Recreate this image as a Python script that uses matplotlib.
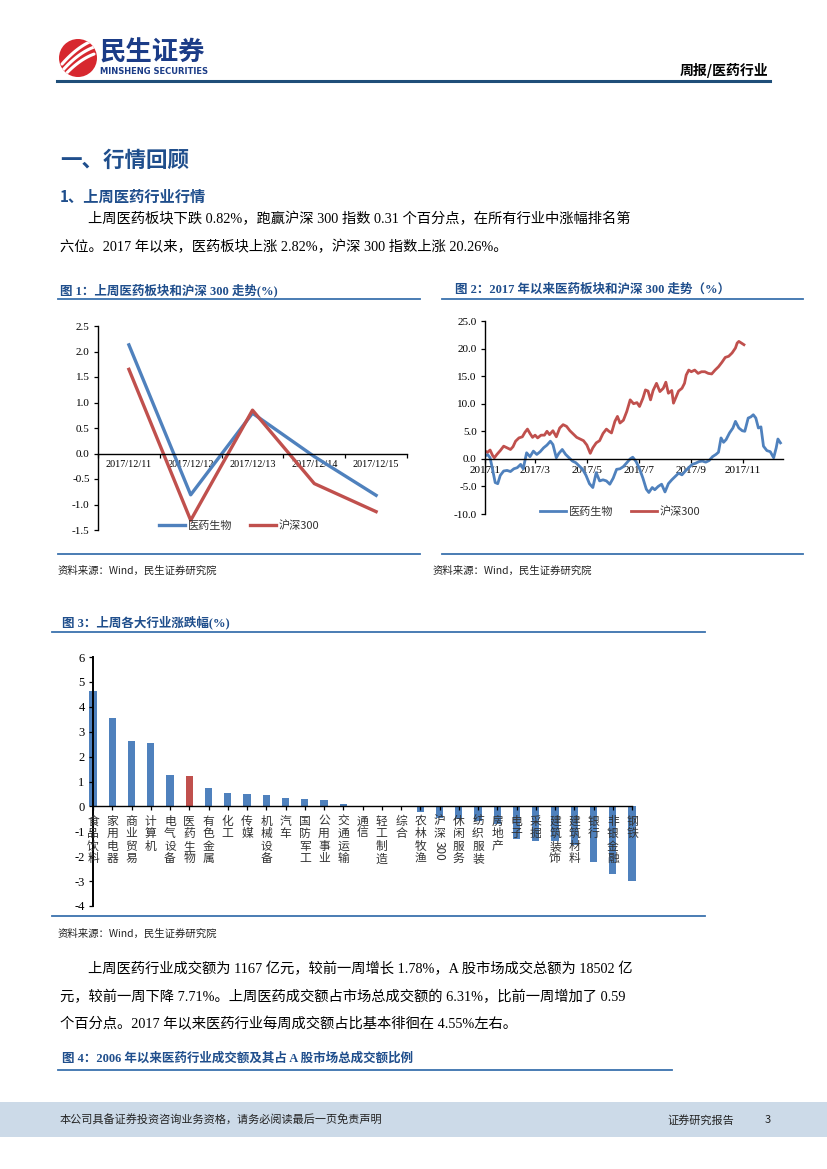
import numpy as np
import pandas as pd
import matplotlib
matplotlib.use('Agg')
import matplotlib.pyplot as plt
from matplotlib.patches import Circle, Rectangle
from matplotlib.lines import Line2D
from matplotlib.transforms import blended_transform_factory

plt.rcParams['axes.unicode_minus'] = False

# === data: figure 1 (last week daily change, %) ===
week_dates = ['2017/12/11', '2017/12/12', '2017/12/13', '2017/12/14', '2017/12/15']
week_yy = [2.13, -0.81, 0.79, -0.06, -0.82]
week_hs = [1.65, -1.31, 0.85, -0.59, -1.14]

# === data: figure 2 (2017 YTD, %), x = days since 2017-01-01 ===
hs_days = [0, 3, 6, 9, 11, 14, 18, 22, 26, 30, 33, 36, 40, 44, 47, 50, 53, 56, 59, 62,
           66, 70, 73, 76, 80, 84, 88, 92, 96, 100, 104, 108, 112, 116, 120, 124, 127, 131,
           135, 139, 143, 146, 149, 153, 156, 159, 163, 167, 171, 175, 179, 182, 186, 189,
           192, 195, 198, 202, 206, 210, 213, 216, 220, 222, 225, 228, 232, 235, 237, 240,
           243, 247, 251, 255, 259, 263, 267, 271, 275, 279, 283, 287, 291, 295, 297, 299,
           302, 305]
hs_vals = [1.4, 1.2, 1.6, 0.6, 0.2, 0.8, 1.5, 2.3, 2.0, 1.7, 2.2, 3.2, 3.8, 4.0, 4.8, 5.4,
           4.6, 3.9, 4.3, 3.8, 4.3, 4.3, 5.0, 4.4, 5.1, 4.0, 5.6, 6.2, 5.9, 5.1, 4.5, 3.9,
           3.6, 3.3, 2.5, 1.0, 2.0, 2.9, 3.3, 4.6, 5.4, 5.0, 4.7, 6.8, 7.7, 6.5, 7.0, 8.6,
           10.7, 10.0, 10.2, 9.5, 11.0, 12.5, 12.3, 10.7, 12.4, 13.7, 12.2, 12.8, 13.9, 11.9,
           12.4, 10.1, 11.2, 12.3, 12.8, 13.7, 15.2, 16.1, 15.8, 16.1, 15.5, 15.8, 15.8, 15.5,
           15.4, 16.1, 16.7, 17.5, 18.4, 18.6, 19.2, 20.1, 21.0, 21.3, 21.0, 20.7]
yy_days = [0, 3, 6, 9, 12, 15, 18, 22, 26, 30, 34, 38, 42, 45, 49, 53, 57, 61, 65, 69,
           73, 77, 80, 84, 87, 91, 95, 99, 103, 107, 111, 115, 119, 123, 127, 131, 135, 139,
           143, 147, 151, 155, 159, 163, 167, 171, 174, 178, 182, 186, 190, 193, 197, 200,
           204, 208, 212, 216, 220, 224, 228, 232, 236, 240, 244, 248, 252, 256, 260, 264,
           268, 272, 275, 278, 281, 284, 288, 292, 295, 299, 303, 306, 310, 313, 316, 319,
           322, 325, 328, 332, 336, 340, 343, 345, 348]
yy_vals = [0.5, 0.8, 0.2, -2.0, -4.3, -4.5, -3.0, -2.2, -2.1, -2.3, -1.8, -1.6, -1.0, -1.8,
           1.1, 0.4, 1.4, 0.8, 1.3, 2.0, 2.5, 3.2, 2.6, 0.2, 1.0, 1.7, 0.8, 0.2, -0.4, -0.7,
           -1.3, -1.9, -3.0, -4.5, -5.2, -2.5, -4.0, -3.8, -4.0, -4.6, -3.5, -1.9, -1.8, -1.4,
           -0.7, 0.0, 0.3, -0.5, -1.8, -3.5, -5.5, -6.1, -5.2, -5.6, -5.0, -4.6, -6.0, -4.5,
           -3.8, -3.2, -2.6, -2.9, -2.2, -1.6, -1.0, -0.8, -0.5, -0.4, -0.6, -0.3, 0.4, 0.8,
           1.2, 3.8, 3.0, 3.5, 4.7, 5.6, 6.8, 5.6, 5.1, 5.0, 7.4, 7.6, 8.0, 7.4, 5.6, 5.8,
           2.3, 1.5, 1.3, 0.2, 2.0, 3.6, 2.9]
month_ticks = ['2017/1', '2017/3', '2017/5', '2017/7', '2017/9', '2017/11']

# === data: figure 3 (industries, last week change %) ===
industries = ['食品饮料', '家用电器', '商业贸易', '计算机', '电气设备', '医药生物', '有色金属',
              '化工', '传媒', '机械设备', '汽车', '国防军工', '公用事业', '交通运输', '通信',
              '轻工制造', '综合', '农林牧渔', '沪深300', '休闲服务', '纺织服装', '房地产', '电子',
              '采掘', '建筑装饰', '建筑材料', '银行', '非银金融', '钢铁']
ind_vals = [4.64, 3.54, 2.64, 2.54, 1.25, 1.21, 0.74, 0.52, 0.51, 0.44, 0.34, 0.31, 0.24,
            0.08, 0.01, -0.01, -0.02, -0.22, -0.45, -0.52, -0.60, -0.72, -1.32, -1.38, -1.40,
            -1.55, -2.24, -2.70, -2.98]

W, H = 827, 1169
SERIF = ['Liberation Serif', 'Noto Sans CJK SC']
SANS = ['Noto Sans CJK SC', 'DejaVu Sans']
NAVY = '#1F4E8C'
RULE = '#3A72AE'
BLUE = '#4F81BD'
RED = '#C0504D'

fig = plt.figure(figsize=(W / 100, H / 100), dpi=100)


def fx(x):
    return x / W


def fy(y):
    return 1 - y / H


def put(x, y, s, size, family=SERIF, **kw):
    kw.setdefault('va', 'center')
    fig.text(fx(x), fy(y), s, fontsize=size, family=family, **kw)


def hline(x0, x1, y, color=RULE, lw=1.3):
    fig.add_artist(Line2D([fx(x0), fx(x1)], [fy(y), fy(y)], color=color, lw=lw,
                          transform=fig.transFigure))


def box(x0, y0, x1, y1):
    return fig.add_axes([fx(x0), fy(y1), (x1 - x0) / W, (y1 - y0) / H])


def frame(ax, left_lw=1.0):
    # spines first: moving the bottom spine resets the tick objects
    for s in ['top', 'right']:
        ax.spines[s].set_visible(False)
    ax.spines['bottom'].set_position(('data', 0))
    ax.spines['bottom'].set_linewidth(1.0)
    ax.spines['left'].set_linewidth(left_lw)
    ax.patch.set_alpha(0)


# === header ===
logo = box(58, 38, 98, 78)
logo.set_xlim(0, 40)
logo.set_ylim(40, 0)
logo.set_aspect('equal')
logo.axis('off')
disc = Circle((20, 20), 19, fc='#D7282F', ec='none')
logo.add_patch(disc)
for off in [-7, 0, 7]:
    xs = np.linspace(4, 36, 40)
    ys = 30 - (xs - 4) * 0.75 + off + 0.012 * (xs - 20) ** 2
    ln, = logo.plot(xs, ys, color='white', lw=2.2, solid_capstyle='round')
    ln.set_clip_path(disc)

put(100, 53, '民生证券', 19, family=SANS, weight='bold', color='#1B3C87')
put(100, 71, 'MINSHENG SECURITIES', 6, family=['DejaVu Sans'], weight='bold', color='#1B3C87')
put(768, 70, '周报/医药行业', 10, family=SANS, weight='bold', ha='right')
hline(57, 770, 81, color='#1F4E79', lw=2.2)

# === section text ===
put(60, 160, '一、行情回顾', 15.5, family=SANS, weight='bold', color=NAVY)
put(60, 197, '1、上周医药行业行情', 11, family=SANS, weight='bold', color=NAVY)
put(88, 219, '上周医药板块下跌 0.82%，跑赢沪深 300 指数 0.31 个百分点，在所有行业中涨幅排名第', 10.3)
put(60, 247, '六位。2017 年以来，医药板块上涨 2.82%，沪深 300 指数上涨 20.26%。', 10.3)

# === figure 1 ===
put(60, 290, '图 1：上周医药板块和沪深 300 走势(%)', 9, weight='bold', color=NAVY)
hline(58, 420, 299)
hline(58, 420, 554)
put(58, 571, '资料来源：Wind，民生证券研究院', 7.5, family=SANS, color='#222222')

ax1 = box(98, 326, 407, 530)
frame(ax1)
xi = np.arange(len(week_dates))
ax1.plot(xi, week_yy, color=BLUE, lw=2.4, label='医药生物')
ax1.plot(xi, week_hs, color=RED, lw=2.4, label='沪深300')
ax1.set_xlim(-0.5, len(week_dates) - 0.5)
ax1.set_ylim(-1.5, 2.5)
ax1.set_yticks(np.arange(-1.5, 2.51, 0.5))
ax1.set_yticklabels([f'{v:.1f}' for v in np.arange(-1.5, 2.51, 0.5)], family=SERIF, fontsize=8)
ax1.set_xticks(np.arange(-0.5, len(week_dates), 1.0))
ax1.set_xticklabels([])
ax1.set_xticks(xi, minor=True)
ax1.set_xticklabels(week_dates, minor=True, family=SERIF, fontsize=7.3)
ax1.tick_params(axis='x', which='major', direction='out', length=3, width=0.9)
ax1.tick_params(axis='x', which='minor', length=0, pad=5)
ax1.tick_params(axis='y', direction='out', length=3, width=0.9, pad=3)
ax1.legend(loc='center', bbox_to_anchor=(fx(239), fy(526)), bbox_transform=fig.transFigure,
           ncol=2, frameon=False, prop={'family': SANS, 'size': 8}, handlelength=2.4,
           handletextpad=0.2, columnspacing=1.6, labelcolor='#333333')

# === figure 2 ===
put(455, 290, '图 2：2017 年以来医药板块和沪深 300 走势（%）', 9, weight='bold', color=NAVY)
hline(442, 803, 299)
hline(442, 803, 554)
put(433, 571, '资料来源：Wind，民生证券研究院', 7.5, family=SANS, color='#222222')

ax2 = box(485, 321, 783, 514)
frame(ax2)
ax2.plot(yy_days, yy_vals, color=BLUE, lw=2.0, label='医药生物')
ax2.plot(hs_days, hs_vals, color=RED, lw=2.0, label='沪深300')
ax2.set_xlim(0, 351)
ax2.set_ylim(-10, 25)
yt = np.arange(-10, 25.1, 5)
ax2.set_yticks(yt)
ax2.set_yticklabels([f'{v:.1f}' for v in yt], family=SERIF, fontsize=8)
mdays = [pd.Timestamp(s.replace('/', '-') + '-01').dayofyear - 1 for s in month_ticks]
ax2.set_xticks(mdays)
ax2.set_xticklabels(month_ticks, family=SERIF, fontsize=8)
ax2.tick_params(axis='x', direction='out', length=3, width=0.9, pad=2)
ax2.tick_params(axis='y', direction='out', length=3, width=0.9, pad=3)
ax2.legend(loc='center', bbox_to_anchor=(fx(620), fy(512)), bbox_transform=fig.transFigure,
           ncol=2, frameon=False, prop={'family': SANS, 'size': 8}, handlelength=2.4,
           handletextpad=0.2, columnspacing=1.6, labelcolor='#333333')

# === figure 3 ===
put(62, 622, '图 3：上周各大行业涨跌幅(%)', 9, weight='bold', color=NAVY)
hline(52, 705, 632)
hline(52, 705, 916)
put(58, 934, '资料来源：Wind，民生证券研究院', 7.5, family=SANS, color='#222222')

ax3 = box(93, 657, 632, 906)
frame(ax3, left_lw=1.4)
pos = np.arange(len(industries))
colors = [RED if name == '医药生物' else BLUE for name in industries]
bars = ax3.bar(pos, ind_vals, width=0.38, color=colors, zorder=1)
for b in bars:
    b.set_clip_on(False)
ax3.set_xlim(0, len(industries) - 1)
ax3.set_ylim(-4, 6)
ax3.set_yticks(np.arange(-4, 7, 1))
ax3.set_yticklabels([str(v) for v in range(-4, 7)], family=SERIF, fontsize=9)
ax3.set_xticks(pos)
ax3.set_xticklabels([])
ax3.tick_params(axis='x', direction='out', length=3, width=0.9)
ax3.tick_params(axis='y', direction='out', length=3, width=0.9, pad=3)
tr = blended_transform_factory(ax3.transData, fig.transFigure)
step = 12.6
for i, name in enumerate(industries):
    if name.endswith('300'):
        head = name[:-3]
        for j, ch in enumerate(head):
            ax3.text(i, fy(821 + j * step), ch, transform=tr, ha='center', va='center',
                     fontsize=8.5, family=SANS, color='#333333', zorder=3, clip_on=False)
        ax3.text(i, fy(821 + len(head) * step + 5), '300', transform=tr, ha='center',
                 va='center', rotation=-90, fontsize=8.5, family=SANS, color='#333333',
                 zorder=3, clip_on=False)
        continue
    for j, ch in enumerate(name):
        ax3.text(i, fy(821 + j * step), ch, transform=tr, ha='center', va='center',
                 fontsize=8.5, family=SANS, color='#333333', zorder=3, clip_on=False)

# === second paragraph and figure 4 title ===
put(88, 969, '上周医药行业成交额为 1167 亿元，较前一周增长 1.78%，A 股市场成交总额为 18502 亿', 10.3)
put(60, 997, '元，较前一周下降 7.71%。上周医药成交额占市场总成交额的 6.31%，比前一周增加了 0.59', 10.3)
put(60, 1024, '个百分点。2017 年以来医药行业每周成交额占比基本徘徊在 4.55%左右。', 10.3)
put(62, 1059, '图 4：2006 年以来医药行业成交额及其占 A 股市场总成交额比例', 9, weight='bold', color=NAVY)
hline(58, 672, 1070)

# === footer ===
fig.add_artist(Rectangle((0, fy(1137)), 1, (1137 - 1102) / H, transform=fig.transFigure,
                         fc='#CCDAE8', ec='none'))
put(60, 1120, '本公司具备证券投资咨询业务资格，请务必阅读最后一页免责声明', 8, family=SANS, color='#222222')
put(667, 1120, '证券研究报告', 8, family=SANS, color='#222222')
put(765, 1120, '3', 8, family=SANS, color='#222222')

fig.savefig('out.png', dpi=100)
